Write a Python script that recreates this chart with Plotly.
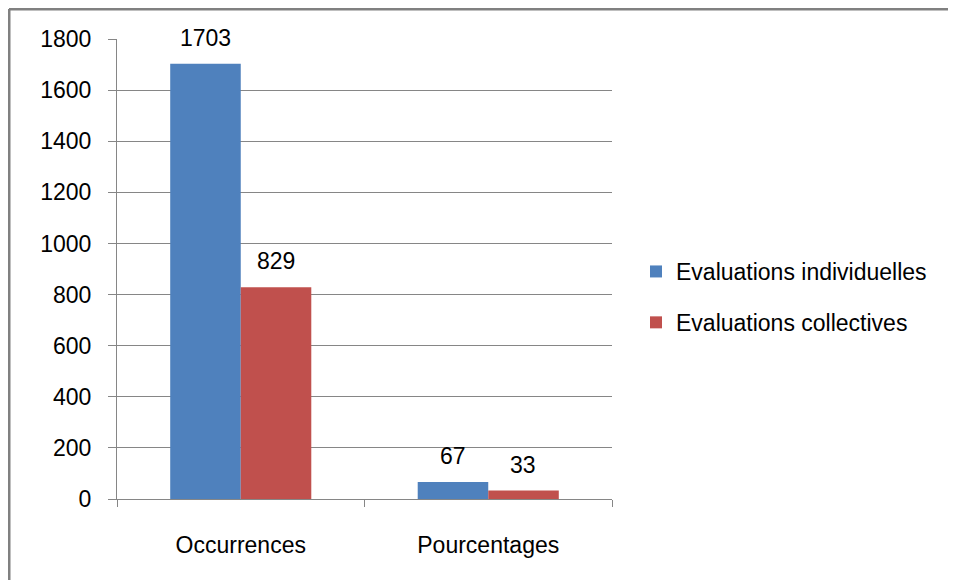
import plotly.graph_objects as go

categories = ["Occurrences", "Pourcentages"]
series_names = ["Evaluations individuelles", "Evaluations collectives"]
individuelles = [1703, 67]
collectives = [829, 33]
colors = ["#4F81BD", "#C0504D"]
y_ticks = [0, 200, 400, 600, 800, 1000, 1200, 1400, 1600, 1800]

FONT = "Liberation Sans"
FS = 23
fig = go.Figure()
for i, (name, vals) in enumerate(zip(series_names, [individuelles, collectives])):
    fig.add_trace(go.Bar(
        x=categories, y=vals, name=name, marker=dict(color=colors[i], line=dict(width=0)),
        legendgroup=str(i),
    ))

# value labels
annotations = []
for i, vals in enumerate([individuelles, collectives]):
    shift = -35 if i == 0 else 35
    for c, v in zip(categories, vals):
        annotations.append(dict(
            x=c, y=v, xref="x", yref="y", text=str(v), showarrow=False,
            xshift=shift, yshift=26, font=dict(family=FONT, size=FS, color="#000"),
        ))

OFF = 8  # page body margin
W, H = 956 - OFF, 580 - OFF
L, R, T, B = 117 - OFF, 344, 39 - OFF, 81
pw = W - L - R
ph = H - T - B

def px_x(p):
    return (p - OFF - L) / pw

def px_y(p):
    return (H - B - (p - OFF)) / ph

shapes = [
    dict(type="line", xref="paper", yref="paper", x0=px_x(9), x1=px_x(960), y0=px_y(9), y1=px_y(9),
         line=dict(color="#808080", width=3)),
    dict(type="line", xref="paper", yref="paper", x0=px_x(9), x1=px_x(9), y0=px_y(9), y1=px_y(585),
         line=dict(color="#808080", width=3)),
]

fig.update_layout(
    width=W, height=H,
    margin=dict(l=L, r=R, t=T, b=B),
    paper_bgcolor="white", plot_bgcolor="white",
    barmode="group", bargap=0.43, bargroupgap=0,
    font=dict(family=FONT, size=FS, color="#000"),
    annotations=annotations,
    shapes=shapes,
    showlegend=True,
    legend=dict(x=px_x(636), y=px_y(297), xanchor="left", yanchor="middle",
                font=dict(family=FONT, size=FS), tracegroupgap=18,
                bgcolor="rgba(0,0,0,0)"),
    xaxis=dict(
        showline=True, linecolor="#868686", linewidth=1,
        ticks="outside", ticklen=7, tickcolor="#868686", tickson="boundaries",
        showgrid=False, ticklabelstandoff=25,
        tickfont=dict(family=FONT, size=FS),
    ),
    yaxis=dict(
        range=[0, 1800], tickvals=y_ticks,
        showline=True, linecolor="#868686", linewidth=1,
        ticks="outside", ticklen=8, tickcolor="#868686",
        showgrid=True, gridcolor="#868686", gridwidth=1,
        zeroline=False, ticklabelstandoff=12,
        tickfont=dict(family=FONT, size=FS),
    ),
)

fig.write_html("out.html")
